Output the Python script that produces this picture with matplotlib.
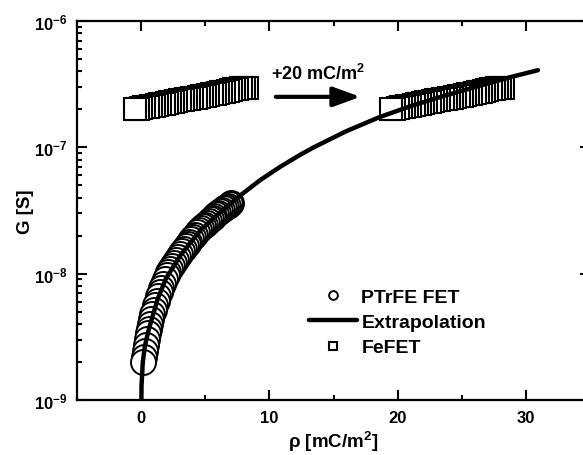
import matplotlib
matplotlib.use("Agg")
import matplotlib.pyplot as plt
from matplotlib.ticker import MultipleLocator, LogLocator, NullFormatter

plt.rcParams['font.family'] = ['Liberation Sans', 'DejaVu Sans']
plt.rcParams['font.weight'] = 'bold'
plt.rcParams['axes.labelweight'] = 'bold'
plt.rcParams['mathtext.default'] = 'regular'

# ── data ────────────────────────────────────────────────────
# PTrFE FET, measured (rho in mC/m^2, log10 of G in S)
rho_ptrfe = [0.18, 0.24, 0.30, 0.37, 0.44, 0.52, 0.60, 0.69, 0.78, 0.88,
             0.98, 1.09, 1.20, 1.32, 1.44, 1.57, 1.70, 1.84, 1.98, 2.12,
             2.27, 2.42, 2.57, 2.72, 2.87, 3.02, 3.17, 3.32, 3.47, 3.62,
             3.77, 3.92, 4.07, 4.22, 4.37, 4.52, 4.67, 4.82, 4.97, 5.12,
             5.27, 5.42, 5.57, 5.72, 5.87, 6.02, 6.17, 6.32, 6.47, 6.62,
             6.77, 6.92, 7.04]
log_g_ptrfe = [-8.700, -8.657, -8.614, -8.564, -8.514, -8.473, -8.437, -8.396, -8.357, -8.323,
               -8.289, -8.251, -8.214, -8.175, -8.144, -8.111, -8.078, -8.043, -8.012, -7.989,
               -7.964, -7.940, -7.915, -7.891, -7.866, -7.841, -7.820, -7.802, -7.783, -7.765,
               -7.747, -7.728, -7.710, -7.691, -7.673, -7.655, -7.637, -7.624, -7.611, -7.598,
               -7.584, -7.571, -7.558, -7.545, -7.531, -7.518, -7.507, -7.495, -7.484, -7.472,
               -7.461, -7.449, -7.440]

# extrapolation curve
rho_fit = [0.0, 0.03, 0.13, 0.30, 0.60, 1.29, 1.93, 3.09, 4.64, 6.00, 7.73,
           9.28, 10.83, 12.37, 13.40, 15.98, 18.56, 21.14, 23.72, 26.30, 28.87, 30.94]
g_fit = [5.0e-10, 1.29e-9, 2.0e-9, 2.69e-9, 3.63e-9, 6.31e-9, 9.12e-9, 1.41e-8, 2.21e-8,
         2.95e-8, 4.16e-8, 5.50e-8, 7.0e-8, 8.69e-8, 9.93e-8, 1.34e-7, 1.73e-7, 2.14e-7,
         2.57e-7, 3.05e-7, 3.61e-7, 4.08e-7]

# FeFET (G in units of 1e-7 S)
rho_fefet = [-0.50, -0.25, 0.00, 0.25, 0.50, 0.75, 1.00, 1.25, 1.50, 1.75,
             2.00, 2.25, 2.50, 2.75, 3.00, 3.25, 3.50, 3.75, 4.00, 4.25,
             4.50, 4.75, 5.00, 5.25, 5.50, 5.75, 6.00, 6.25, 6.50, 6.75,
             7.00, 7.25, 7.50, 7.75, 8.00, 8.25]
g_fefet = [2.00, 2.02, 2.05, 2.07, 2.09, 2.12, 2.14, 2.17, 2.19, 2.22,
           2.24, 2.27, 2.29, 2.32, 2.35, 2.37, 2.40, 2.43, 2.45, 2.48,
           2.51, 2.54, 2.57, 2.60, 2.63, 2.66, 2.69, 2.72, 2.76, 2.81,
           2.86, 2.90, 2.92, 2.94, 2.95, 2.96]
shift = 20.0

# ─────────────────────────────────────────────
fig = plt.figure(figsize=(5.83, 4.56), dpi=100)
ax = fig.add_axes([77 / 583, 55 / 456, 513 / 583, 379 / 456])
ax.set_yscale('log')

# first point on top -> draw in reverse order
g_ptrfe = [10 ** v for v in log_g_ptrfe]
ax.plot(rho_ptrfe[::-1], g_ptrfe[::-1], 'o', ms=18, mfc='white', mec='black',
        mew=1.4, zorder=2, label='PTrFE FET')

g_fe = [v * 1e-7 for v in g_fefet]
ax.plot(rho_fefet[::-1], g_fe[::-1], 's', ms=15.5, mfc='white', mec='black',
        mew=1.5, zorder=2, label='FeFET')
ax.plot([r + shift for r in rho_fefet][::-1], g_fe[::-1], 's', ms=15.5,
        mfc='white', mec='black', mew=1.5, zorder=2)

ax.plot(rho_fit, g_fit, '-', color='black', lw=3.2, zorder=3,
        label='Extrapolation', solid_capstyle='round', solid_joinstyle='round')

ax.annotate('', xy=(17.1, 2.51e-7), xytext=(10.5, 2.51e-7),
            arrowprops=dict(arrowstyle='-|>,head_length=1.65,head_width=0.6',
                            lw=3, color='black', mutation_scale=10,
                            shrinkA=0, shrinkB=0))
ax.text(10.1, 3.5e-7, '+20 mC/m$^2$', fontsize=13, ha='left', va='baseline')

ax.set_xlim(-5, 35)
ax.set_ylim(1e-9, 1e-6)
ax.xaxis.set_major_locator(MultipleLocator(10))
ax.xaxis.set_minor_locator(MultipleLocator(5))
ax.yaxis.set_major_locator(LogLocator(base=10))
ax.yaxis.set_minor_locator(LogLocator(base=10, subs=range(2, 10)))
ax.yaxis.set_minor_formatter(NullFormatter())
ax.tick_params(which='both', direction='in', top=True, right=True, width=1.5,
               labelsize=12)
ax.tick_params(which='major', length=7, pad=7)
ax.tick_params(which='minor', length=3.5)
for s in ax.spines.values():
    s.set_linewidth(1.6)

ax.set_xlabel('ρ [mC/m$^2$]', fontsize=13.5, labelpad=3)
ax.set_ylabel('G [S]', fontsize=13.5, labelpad=0)

h, l = ax.get_legend_handles_labels()
order = [0, 2, 1]
ax.legend([h[i] for i in order], [l[i] for i in order], loc='center left',
          bbox_to_anchor=(0.452, 0.205), frameon=False, fontsize=14,
          markerscale=0.35, handlelength=2.45, handletextpad=0.25,
          labelspacing=0.4, borderpad=0, borderaxespad=0)

fig.savefig('out.png', dpi=100)
